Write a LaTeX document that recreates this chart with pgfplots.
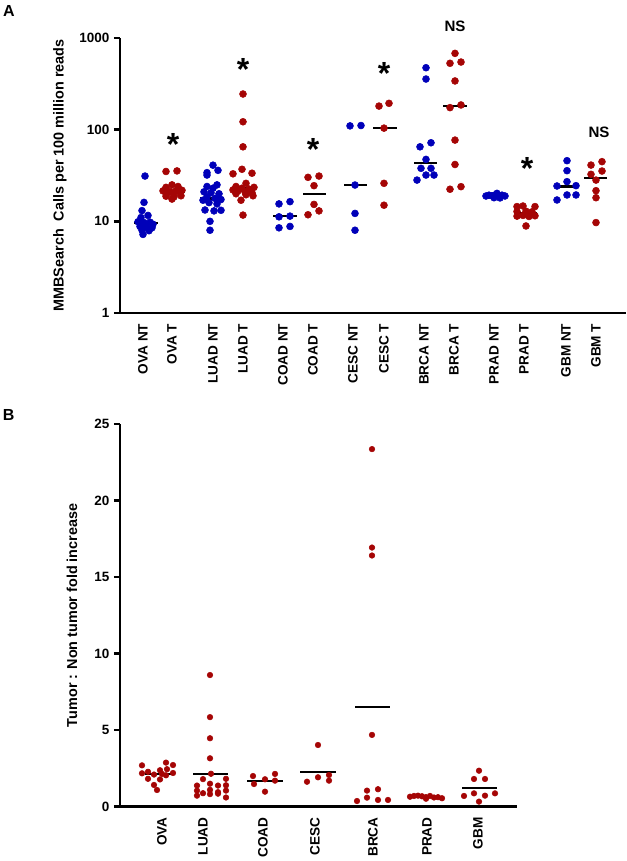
\documentclass[border=0pt]{standalone}
\usepackage{pgfplots}
\pgfplotsset{compat=1.18}
\usepackage{fontspec}
\setmainfont{Liberation Sans}
\definecolor{ntblue}{RGB}{0,0,185}
\definecolor{tred}{RGB}{165,5,5}

\pgfplotsset{
  prism/.style={
    scale only axis, axis lines=left,
    axis line style={-, line width=1.8pt},
    clip=false,
    tick align=outside,
    major tick length=4.5pt,
    ytick style={line width=1.8pt, black},
    xtick style={draw=none},
    yticklabel style={font=\bfseries\fontsize{10.1}{12}\selectfont},
    xticklabel style={rotate=90, anchor=east, font=\bfseries\fontsize{10.2}{12}\selectfont},
    ylabel style={font=\bfseries\fontsize{10.8}{13}\selectfont, anchor=center},
  },
  nt/.style={only marks, mark=*, mark size=2.6pt, color=ntblue},
  tt/.style={only marks, mark=*, mark size=2.6pt, color=tred},
  tb/.style={only marks, mark=*, mark size=2.1pt, color=tred},
  mean/.style={black, line width=1.7pt, no marks},
  meanb/.style={black, line width=1.4pt, no marks},
}
\tikzset{
  sig/.style={font=\bfseries\fontsize{24}{24}\selectfont, anchor=base, yshift=-13pt, inner sep=0pt},
  ns/.style={font=\bfseries\fontsize{11.3}{13}\selectfont, anchor=center, inner sep=0pt},
}

\begin{document}
\begin{tikzpicture}
\path[use as bounding box] (0,0) rectangle (470.25pt,-645.75pt);
\node[font=\bfseries\fontsize{12}{14}\selectfont, inner sep=0pt] at (6.75pt,-8.25pt) {A};
\node[font=\bfseries\fontsize{12}{14}\selectfont, inner sep=0pt] at (6.4pt,-311.6pt) {B};

% panel A
\begin{axis}[prism,
  at={(90pt,-234.75pt)}, anchor=south west,
  width=379.5pt, height=206.25pt,
  xmin=120, xmax=626,
  ymode=log, ymin=1, ymax=1000,
  ytick={1,10,100,1000}, yticklabels={1,10,100,1000},
  yminorticks=false,
  xtick={143,172,213,243,283,313,353,384,424,454,494,524,566,596},
  xticklabels={OVA NT,OVA T,LUAD NT,LUAD T,COAD NT,COAD T,CESC NT,CESC T,BRCA NT,BRCA T,PRAD NT,PRAD T,GBM NT,GBM T},
  ylabel={MMBSearch\ \ Calls per 100 million reads},
  ylabel style={at={(axis description cs:-0.1186,0.5)}},
]
% OVA
\addplot[nt] coordinates {(145,31.2)(144,16.1)(142,13.1)(148,11.6)(141,11.0)(138,9.9)(144,9.7)(150,9.8)(153,9.3)(140,8.8)(146,8.7)(152,8.5)(142,8.0)(149,7.9)(143,7.2)};
\addplot[tt] coordinates {(166,35)(177,35.5)(172,25)(178,24)(166,23.5)(163,21.5)(170,21.2)(176,21.5)(182,21.8)(167,20.3)(173,20.0)(180,20.4)(166,18.8)(174,18.5)(181,19)(172,17.5)};
% LUAD
\addplot[nt] coordinates {(213,41)(207,34)(218,36)(207,32)(217,25)(207,24)(213,23)(204,21)(211,20.5)(219,20)(207,18.5)(215,17.8)(203,17)(221,17.3)(209,16)(217,15.5)(205,13.3)(214,13)(221,13.2)(210,10)(210,8.0)};
\addplot[tt] coordinates {(243,245)(243,122)(243,65)(242,37)(233,33)(252,33.5)(246,26)(236,24)(242,23)(249,22.5)(254,23.5)(233,22)(238,21.5)(245,21)(252,20.5)(236,20)(246,19.5)(253,19)(241,17)(243,11.7)};
% COAD
\addplot[nt] coordinates {(279,15.5)(290,16.4)(279,11.2)(290,11.4)(279,8.5)(290,8.8)};
\addplot[tt] coordinates {(308,30.2)(319,31.2)(314,24.5)(314,15.3)(308,11.8)(319,13.0)};
% CESC
\addplot[nt] coordinates {(350,110)(361,111)(355,24.9)(355,12.2)(355,8.0)};
\addplot[tt] coordinates {(379,181)(389,194)(384,104)(384,26)(384,15)};
% BRCA
\addplot[nt] coordinates {(426,474)(426,357)(420,65)(431,72)(426,47.4)(421,37.9)(431,37.9)(426,32)(434,32)(417,28.2)};
\addplot[tt] coordinates {(455,680)(450,530)(461,547)(455,340)(450,174)(461,186)(455,77)(455,41.7)(450,22.4)(461,23.9)};
% PRAD
\addplot[nt] coordinates {(486,18.9)(489,19.3)(492,19.0)(495,19.4)(497,20.2)(499,18.7)(502,19.3)(505,18.9)(494,18.1)(500,18.0)};
\addplot[tt] coordinates {(517,14.5)(523,14.7)(535,14.5)(517,12.8)(526,12.9)(532,12.7)(517,11.4)(523,11.6)(529,11.3)(535,11.5)(526,8.9)};
% GBM
\addplot[nt] coordinates {(567,45.9)(567,35.7)(567,27.1)(557,24.3)(576,24.5)(557,17.1)(567,19.4)(576,19.4)};
\addplot[tt] coordinates {(591,41.1)(602,44.8)(591,32.6)(602,35.4)(596,28.2)(596,21.6)(596,18.1)(596,9.7)};
% centre lines
\addplot[mean] coordinates {(134,9.6)(158,9.6)};
\addplot[mean] coordinates {(161,21)(185,21)};
\addplot[mean] coordinates {(200,17.8)(224,17.8)};
\addplot[mean] coordinates {(232,22.8)(255,22.8)};
\addplot[mean] coordinates {(273,11.4)(297,11.4)};
\addplot[mean] coordinates {(303,19.9)(326,19.9)};
\addplot[mean] coordinates {(344,24.9)(367,24.9)};
\addplot[mean] coordinates {(373,104)(397,104)};
\addplot[mean] coordinates {(414,43)(437,43)};
\addplot[mean] coordinates {(443,181)(467,181)};
\addplot[mean] coordinates {(485,18.8)(508,18.8)};
\addplot[mean] coordinates {(515,12.3)(537,12.3)};
\addplot[mean] coordinates {(555,24)(578,24)};
\addplot[mean] coordinates {(584,29.9)(607,29.9)};
% significance
\node[sig] at (axis cs:173,81.1) {*};
\node[sig] at (axis cs:243,533) {*};
\node[sig] at (axis cs:313,72.1) {*};
\node[sig] at (axis cs:384,486) {*};
\node[sig] at (axis cs:527,44) {*};
\node[ns] at (axis cs:455,1328) {NS};
\node[ns] at (axis cs:599,93.6) {NS};
\end{axis}

% panel B
\begin{axis}[prism,
  at={(90pt,-605pt)}, anchor=south west,
  width=297.75pt, height=287pt,
  xmin=120, xmax=517,
  ymin=0, ymax=25,
  ytick={0,5,10,15,20,25}, yticklabels={0,5,10,15,20,25},
  xtick={162,203,263,315,373,427,478},
  xticklabels={OVA,LUAD,COAD,CESC,BRCA,PRAD,GBM},
  ylabel={Tumor : Non tumor fold increase},
  ylabel style={at={(axis description cs:-0.1209,0.5)}},
]
\addplot[tb] coordinates {(142,2.70)(166,2.88)(173,2.72)(148,2.28)(160,2.38)(167,2.45)(142,2.18)(154,2.10)(166,2.05)(173,2.20)(148,1.82)(160,1.78)(162,2.14)(154,1.42)(157,1.09)};
\addplot[tb] coordinates {(210,8.6)(210,5.85)(210,4.47)(210,3.16)(211,2.15)(203,1.80)(226,1.82)(197,1.38)(210,1.50)(218,1.38)(226,1.40)(197,1.05)(210,1.10)(226,1.05)(203,0.88)(218,0.85)(210,0.82)(197,0.72)(226,0.60)(218,0.95)};
\addplot[tb] coordinates {(253,2.0)(254,1.48)(265,0.98)(265,1.79)(275,2.14)(275,1.70)};
\addplot[tb] coordinates {(318,4.03)(307,1.63)(318,1.92)(329,2.07)(329,1.70)};
\addplot[tb] coordinates {(372,23.36)(372,16.93)(372,16.41)(372,4.69)(367,1.05)(378,1.14)(367,0.59)(378,0.44)(388,0.44)(357,0.37)};
\addplot[tb] coordinates {(410,0.65)(414,0.70)(418,0.72)(422,0.68)(426,0.62)(426,0.52)(430,0.70)(434,0.60)(438,0.62)(442,0.55)};
\addplot[tb] coordinates {(479,2.35)(474,1.81)(485,1.81)(464,0.70)(474,0.87)(485,0.72)(495,0.87)(479,0.33)};
\addplot[meanb] coordinates {(145,2.12)(175,2.12)};
\addplot[meanb] coordinates {(193,2.15)(228,2.15)};
\addplot[meanb] coordinates {(247,1.70)(283,1.70)};
\addplot[meanb] coordinates {(300,2.29)(336,2.29)};
\addplot[meanb] coordinates {(355,6.54)(390,6.54)};
\addplot[meanb] coordinates {(409,0.63)(443,0.63)};
\addplot[meanb] coordinates {(462,1.2)(497,1.2)};
\end{axis}
\end{tikzpicture}
\end{document}
